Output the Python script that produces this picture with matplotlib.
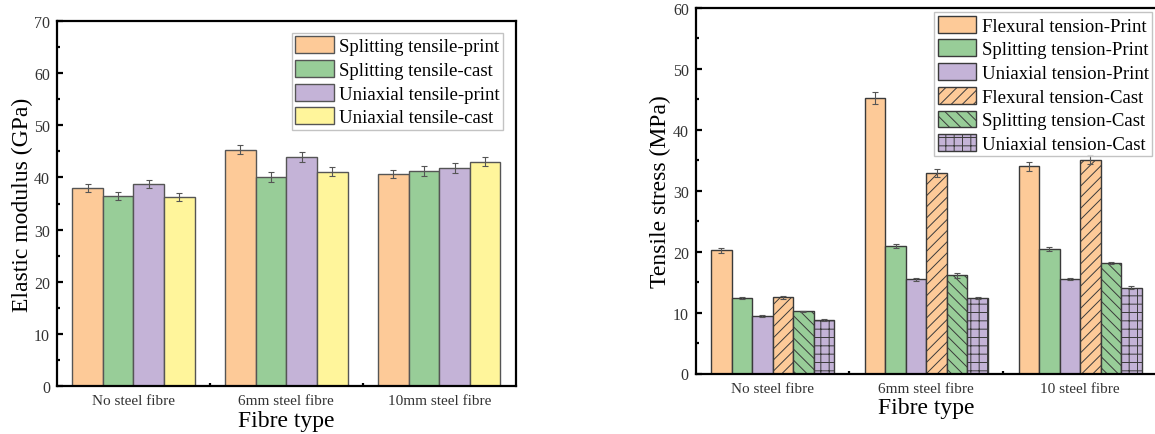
import matplotlib
matplotlib.use("Agg")
import matplotlib.pyplot as plt
import numpy as np
from matplotlib.ticker import MultipleLocator, FixedLocator

# ---------------- data ----------------
left_categories = ["No steel fibre", "6mm steel fibre", "10mm steel fibre"]
left_labels = ["Splitting tensile-print", "Splitting tensile-cast",
               "Uniaxial tensile-print", "Uniaxial tensile-cast"]
split_print = [38.0, 45.3, 40.6]
split_print_err = [0.8, 0.9, 0.8]
split_cast = [36.5, 40.1, 41.2]
split_cast_err = [0.8, 0.9, 0.9]
uni_print = [38.8, 43.9, 41.8]
uni_print_err = [0.8, 0.9, 0.9]
uni_cast = [36.3, 41.1, 43.0]
uni_cast_err = [0.8, 0.9, 0.9]

right_categories = ["No steel fibre", "6mm steel fibre", "10 steel fibre"]
right_labels = ["Flexural tension-Print", "Splitting tension-Print",
                "Uniaxial tension-Print", "Flexural tension-Cast",
                "Splitting tension-Cast", "Uniaxial tension-Cast"]
flex_print = [20.2, 45.2, 34.0]
flex_print_err = [0.35, 0.95, 0.7]
splitt_print = [12.4, 20.9, 20.4]
splitt_print_err = [0.2, 0.3, 0.3]
unit_print = [9.4, 15.5, 15.5]
unit_print_err = [0.15, 0.25, 0.2]
flex_cast = [12.5, 32.9, 35.1]
flex_cast_err = [0.25, 0.7, 0.75]
splitt_cast = [10.2, 16.1, 18.1]
splitt_cast_err = [0.1, 0.35, 0.15]
unit_cast = [8.8, 12.4, 14.1]
unit_cast_err = [0.1, 0.15, 0.25]

# ---------------- style ----------------
plt.rcParams['font.family'] = ['Liberation Serif', 'DejaVu Serif']
plt.rcParams['hatch.linewidth'] = 0.7

ORANGE = "#FDCA98"
GREEN = "#98CD98"
PURPLE = "#C4B3D7"
YELLOW = "#FFF59B"
EDGE = "#3a3a3a"
ERRC = "#555555"

W, H = 1155, 435
fig = plt.figure(figsize=(W / 100, H / 100), dpi=100)

def frac_axes(l, t, r, b):
    return fig.add_axes([l / W, 1 - b / H, (r - l) / W, (b - t) / H])

def style_axes(ax, ymax):
    for s in ax.spines.values():
        s.set_linewidth(1.6)
        s.set_color("black")
    ax.set_xlim(-0.5, 2.5)
    ax.set_ylim(0, ymax)
    ax.yaxis.set_major_locator(MultipleLocator(10))
    ax.yaxis.set_minor_locator(MultipleLocator(5))
    ax.xaxis.set_minor_locator(FixedLocator([0.5, 1.5]))
    ax.tick_params(axis='y', which='major', direction='in', length=4, width=1.6,
                   labelsize=11.5, pad=5, labelcolor="#333333")
    ax.tick_params(axis='y', which='minor', direction='in', length=2.5, width=1.6)
    ax.tick_params(axis='x', which='major', length=0, labelsize=11, pad=6,
                   labelcolor="#333333")
    ax.tick_params(axis='x', which='minor', direction='in', length=2, width=1.6)

LEG_KW = dict(loc='upper right', borderaxespad=0, fontsize=13.5, frameon=True,
              fancybox=False, edgecolor="#b5b5b5", handlelength=2.05,
              handleheight=1.0, handletextpad=0.3, labelspacing=0.26,
              borderpad=0.18)

# ---------------- left panel ----------------
ax1 = frac_axes(57, 22, 515.7, 387)
x = np.arange(len(left_categories))
bw = 0.2
lvals = [split_print, split_cast, uni_print, uni_cast]
lerrs = [split_print_err, split_cast_err, uni_print_err, uni_cast_err]
lcols = [ORANGE, GREEN, PURPLE, YELLOW]
for i, (v, e, c, lab) in enumerate(zip(lvals, lerrs, lcols, left_labels)):
    ax1.bar(x + (i - 1.5) * bw, v, bw, color=c, edgecolor="#555555",
            linewidth=1.0, label=lab, yerr=e, capsize=2.5,
            error_kw=dict(ecolor=ERRC, elinewidth=0.8, capthick=0.8))
style_axes(ax1, 70)
ax1.set_xticks(x)
ax1.set_xticklabels(left_categories)
ax1.set_ylabel("Elastic modulus (GPa)", fontsize=17)
ax1.set_xlabel("Fibre type", fontsize=17)
ax1.yaxis.set_label_coords(-0.0763, 0.5)
ax1.yaxis.label.set_va('center')
ax1.xaxis.set_label_coords(0.5, -0.095)
ax1.xaxis.label.set_va('center')
leg1 = ax1.legend(bbox_to_anchor=(0.973, 0.967), **LEG_KW)
leg1.get_frame().set_linewidth(1.0)

# ---------------- right panel ----------------
ax2 = frac_axes(695.7, 9, 1157, 374.5)
rvals = [flex_print, splitt_print, unit_print, flex_cast, splitt_cast, unit_cast]
rerrs = [flex_print_err, splitt_print_err, unit_print_err,
         flex_cast_err, splitt_cast_err, unit_cast_err]
rcols = [ORANGE, GREEN, PURPLE, ORANGE, GREEN, PURPLE]
rhatch = [None, None, None, "///", "\\\\\\", "++"]
bw2 = 0.8 / 6
for i, (v, e, c, h, lab) in enumerate(zip(rvals, rerrs, rcols, rhatch, right_labels)):
    ax2.bar(x + (i - 2.5) * bw2, v, bw2, color=c, edgecolor=EDGE,
            linewidth=1.0, hatch=h, label=lab, yerr=e, capsize=2.5,
            error_kw=dict(ecolor=ERRC, elinewidth=0.8, capthick=0.8))
style_axes(ax2, 60)
ax2.set_xticks(x)
ax2.set_xticklabels(right_categories)
ax2.set_ylabel("Tensile stress (MPa)", fontsize=17)
ax2.set_xlabel("Fibre type", fontsize=17)
ax2.yaxis.set_label_coords(-0.0774, 0.5)
ax2.yaxis.label.set_va('center')
ax2.xaxis.set_label_coords(0.5, -0.0917)
ax2.xaxis.label.set_va('center')
leg2 = ax2.legend(bbox_to_anchor=(0.9898, 0.988), **LEG_KW)
leg2.get_frame().set_linewidth(1.0)

fig.savefig("out.png", dpi=100)
